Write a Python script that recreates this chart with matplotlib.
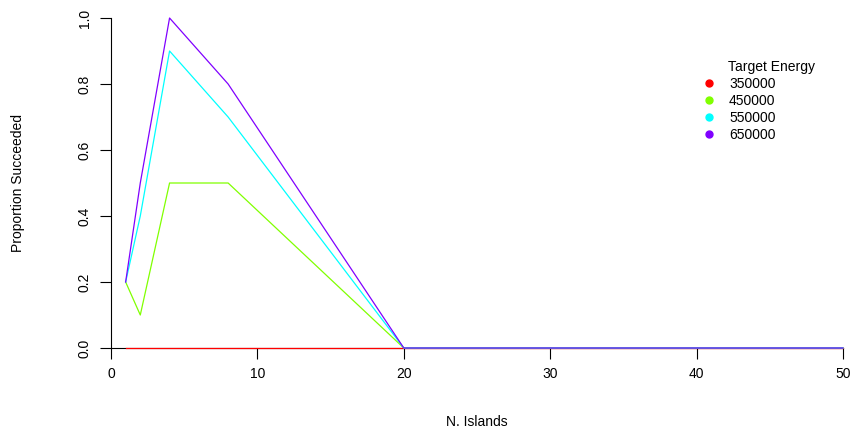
import matplotlib
matplotlib.use("Agg")
from matplotlib import pyplot as plt

plt.rcParams['font.family'] = ['Liberation Sans', 'DejaVu Sans']

# Data
islands = [1, 2, 4, 8, 20, 50]
energies = ['350000', '450000', '550000', '650000']
p350 = [0, 0, 0, 0, 0, 0]
p450 = [0.2, 0.1, 0.5, 0.5, 0, 0]
p550 = [0.2, 0.4, 0.9, 0.7, 0, 0]
p650 = [0.2, 0.5, 1.0, 0.8, 0, 0]
colors = ['#FF0000', '#80FF00', '#00FFFF', '#8000FF']

fig = plt.figure(figsize=(8.55, 4.32), dpi=100)
ax = fig.add_axes([111/855, 1-348/432, (843-111)/855, (348-18)/432])

for vals, col in zip([p350, p450, p550, p650], colors):
    ax.plot(islands, vals, color=col, lw=0.9, clip_on=False, zorder=3)

ax.set_xlim(0, 50)
ax.set_ylim(0, 1)
ax.spines['top'].set_visible(False)
ax.spines['right'].set_visible(False)
ax.spines['left'].set_linewidth(0.8)
ax.spines['bottom'].set_linewidth(0.8)
ax.set_xticks([0, 10, 20, 30, 40, 50])
ax.set_yticks([0, 0.2, 0.4, 0.6, 0.8, 1.0])
ax.set_yticklabels(['0.0', '0.2', '0.4', '0.6', '0.8', '1.0'], rotation=90, va='center')
ax.tick_params(direction='out', length=8, width=0.8, labelsize=10, pad=6)
ax.tick_params(axis='y', pad=6)

ax.set_xlabel('N. Islands', fontsize=10)
ax.xaxis.label.set_verticalalignment('center')
ax.xaxis.set_label_coords(0.5, (348-421.5)/330)
ax.set_ylabel('Proportion Succeeded', fontsize=10)
ax.yaxis.label.set_verticalalignment('center')
ax.yaxis.set_label_coords((18-111)/732, 0.5)

# legend (no frame, title placed like R's legend title)
handles = [plt.Line2D([], [], ls='none', marker='o', ms=5, color=c) for c in colors]
ax.legend(handles, energies, frameon=False,
          loc='upper left', bbox_to_anchor=(702/855, 1-77/432),
          bbox_transform=fig.transFigure, fontsize=10,
          handlelength=1.0, handletextpad=0.95, labelspacing=0.21,
          borderpad=0, borderaxespad=0)
fig.text(728/855, 1-67/432, 'Target Energy', fontsize=10, va='center', ha='left')

fig.savefig('out.png', dpi=100)
